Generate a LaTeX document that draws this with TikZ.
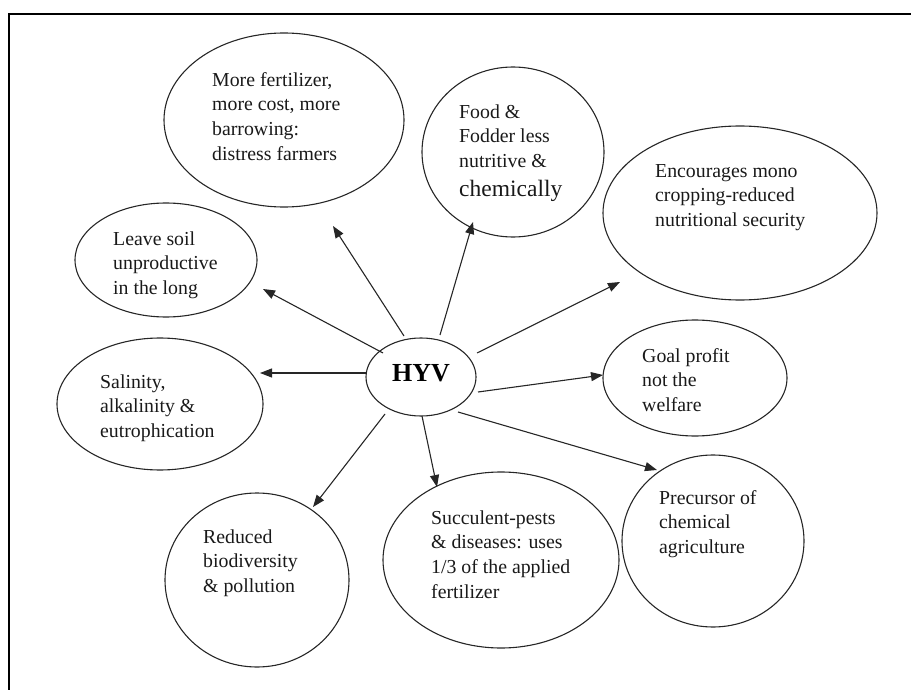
\documentclass[tikz,border=0pt]{standalone}
\usepackage{fontspec}
\setmainfont{Liberation Serif}
\usetikzlibrary{shapes.geometric,arrows.meta}
\begin{document}
\begin{tikzpicture}[x=1pt,y=-1pt,
  bubble/.style={draw=black!85,line width=1.1pt,ellipse,inner sep=0pt},
  txt/.style={anchor=north west,inner sep=0pt,align=left,font=\fontsize{19.8}{24.8}\selectfont,text=black!90},
  arr/.style={-{Triangle[length=12pt,width=9pt]},line width=1.1pt,draw=black!85}]
\useasboundingbox (0,0) rectangle (911,690);
\clip (0,0) rectangle (911,690);
\draw[line width=2pt] (9,700) -- (9,14) -- (920,14);

% ellipses
\node[bubble,minimum width=110pt,minimum height=78pt] (hyv) at (421,377) {};
\node[anchor=base,inner sep=0pt,font=\fontsize{26}{30}\selectfont\bfseries] (hyvt) at (421,381) {HYV};

\node[bubble,minimum width=240pt,minimum height=174pt] (e1) at (284,120) {};
\node[bubble,minimum width=182pt,minimum height=170pt] (e2) at (513,152) {};
\node[bubble,minimum width=274pt,minimum height=174pt] (e3) at (740,213) {};
\node[bubble,minimum width=182pt,minimum height=114pt] (e4) at (166,260) {};
\node[bubble,minimum width=206pt,minimum height=132pt] (e5) at (160,404) {};
\node[bubble,minimum width=184pt,minimum height=174pt] (e6) at (257,580) {};
\node[bubble,minimum width=236pt,minimum height=176pt] (e7) at (501,560) {};
\node[bubble,minimum width=184pt,minimum height=116pt] (e8) at (695,378) {};
\node[bubble,minimum width=182pt,minimum height=172pt] (e9) at (713,541) {};

% texts
\node[txt] (t1) at (212,68.6) {\strut More fertilizer,\\more cost, more\\barrowing:\\distress farmers};
\node[txt] (t2) at (459,100.6) {\strut Food \&\\Fodder less\\nutritive \&\\[4pt]{\fontsize{23.5}{28}\selectfont chemically}};
\node[txt] (t3) at (655,159.6) {\strut Encourages mono\\cropping-reduced\\nutritional security};
\node[txt] (t4) at (113,227.6) {\strut Leave soil\\unproductive\\in the long};
\node[txt] (t5) at (100,370.6) {\strut Salinity,\\alkalinity \&\\eutrophication};
\node[txt] (t6) at (203,525.6) {\strut Reduced\\biodiversity\\\& pollution};
\node[txt] (t7) at (431,506.6) {\strut Succulent-pests\\\& diseases: uses\\1/3 of the applied\\fertilizer};
\node[txt] (t8) at (642,344.6) {\strut Goal profit\\not the\\welfare};
\node[txt] (t9) at (659,486.6) {\strut Precursor of\\chemical\\agriculture};

% arrow endpoints
\coordinate (s1) at (404,336); \coordinate (p1) at (333,226);
\coordinate (s2) at (440,335); \coordinate (p2) at (473,222);
\coordinate (s3) at (477,353); \coordinate (p3) at (620,282);
\coordinate (s4) at (383,353); \coordinate (p4) at (263,289);
\coordinate (s5) at (366,373); \coordinate (p5) at (260,373);
\coordinate (s6) at (385,414); \coordinate (p6) at (313,507);
\coordinate (s7) at (422,416); \coordinate (p7) at (437,487);
\coordinate (s8) at (478,392); \coordinate (p8) at (603,375);
\coordinate (s9) at (458,412); \coordinate (p9) at (657,470);

\foreach \i in {1,...,9} {\draw[arr] (s\i) -- (p\i);}
\end{tikzpicture}
\end{document}
